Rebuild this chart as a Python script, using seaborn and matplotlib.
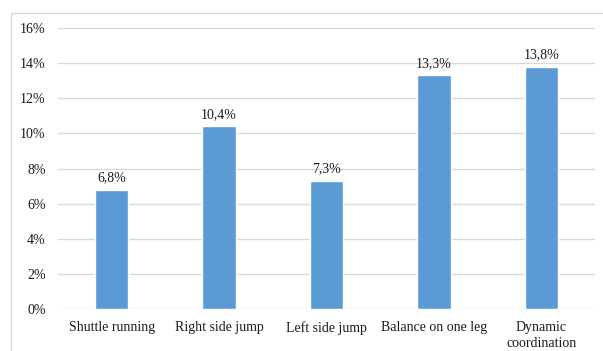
import matplotlib
matplotlib.use("Agg")
import matplotlib.pyplot as plt
import seaborn as sns
import pandas as pd
from matplotlib.patches import Rectangle
from matplotlib.ticker import FuncFormatter, MultipleLocator

categories = ["Shuttle running", "Right side jump", "Left side jump",
              "Balance on one leg", "Dynamic\ncoordination"]
values = [6.8, 10.4, 7.3, 13.3, 13.8]
value_labels = ["6,8%", "10,4%", "7,3%", "13,3%", "13,8%"]

sns.set_theme(style="white")
plt.rcParams["font.family"] = ["Liberation Serif", "DejaVu Serif"]

df = pd.DataFrame({"category": categories, "value": values})

fig = plt.figure(figsize=(6.03, 3.51), dpi=100)
fig.patch.set_facecolor("white")
# light frame around the chart area (runs off the right and bottom edges)
fig.add_artist(Rectangle((11 / 603, -0.1), 1.0, 0.1 + 338 / 351,
                         transform=fig.transFigure, fill=False,
                         edgecolor="#d9d9d9", linewidth=1.0))

ax = fig.add_axes([58 / 603, 1 - 309 / 351, 537 / 603, 281 / 351])
sns.barplot(data=df, x="category", y="value", color="#5b9bd5",
            saturation=1, width=0.31, ax=ax, zorder=3)

ax.set_ylim(0, 16)
ax.set_xlim(-0.5, len(categories) - 0.5)
ax.yaxis.set_major_locator(MultipleLocator(2))
ax.yaxis.set_major_formatter(FuncFormatter(lambda v, _: f"{v:.0f}%"))
ax.grid(axis="y", color="#d9d9d9", linewidth=1.0, zorder=0)
for s in ax.spines.values():
    s.set_visible(False)
ax.set_xlabel("")
ax.set_ylabel("")
ax.tick_params(axis="both", length=0, labelsize=10, colors="#1a1a1a")
ax.tick_params(axis="y", pad=9)
ax.tick_params(axis="x", pad=9)
for t in ax.get_xticklabels():
    t.set_linespacing(1.25)

for i, (v, lab) in enumerate(zip(values, value_labels)):
    ax.annotate(lab, (i, v), xytext=(0, 4), textcoords="offset points",
                ha="center", va="bottom", fontsize=10, color="#1a1a1a")

fig.savefig("out.png", dpi=100, facecolor="white")
